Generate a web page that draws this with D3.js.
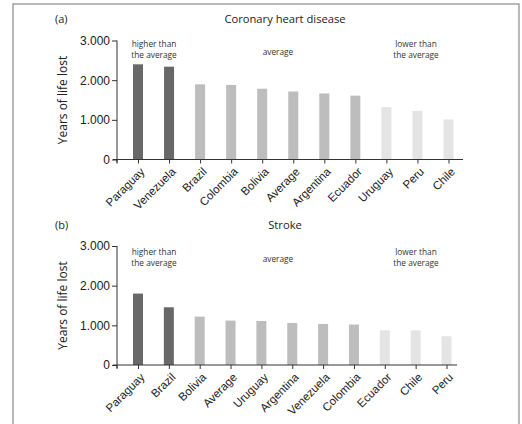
<!DOCTYPE html>
<html>
<head>
<meta charset="utf-8">
<script src="https://cdn.jsdelivr.net/npm/d3@7"></script>
<style>
  body { margin: 0; background: #fff; }
  svg { display: block; font-family: "Open Sans", sans-serif; }
</style>
</head>
<body>
<svg id="chart" width="522" height="424"></svg>
<script>
// data
const chdCountries = ["Paraguay", "Venezuela", "Brazil", "Colombia", "Bolivia", "Average", "Argentina", "Ecuador", "Uruguay", "Peru", "Chile"];
const chdValues    = [2400, 2340, 1895, 1880, 1785, 1715, 1665, 1610, 1320, 1225, 1010];
const chdGroups    = ["high", "high", "avg", "avg", "avg", "avg", "avg", "avg", "low", "low", "low"];

const strokeCountries = ["Paraguay", "Brazil", "Bolivia", "Average", "Uruguay", "Argentina", "Venezuela", "Colombia", "Ecuador", "Chile", "Peru"];
const strokeValues    = [1800, 1455, 1220, 1120, 1110, 1060, 1035, 1020, 875, 875, 725];
const strokeGroups    = ["high", "high", "avg", "avg", "avg", "avg", "avg", "avg", "low", "low", "low"];

const yTicks = [0, 1000, 2000, 3000];

const colors = {high: "#686868", avg: "#bdbdbd", low: "#e4e4e4"};
const fmt = d3.formatLocale({decimal: ",", thousands: ".", grouping: [3], currency: ["", ""]}).format(",");

const svg = d3.select("#chart");

// outer frame
svg.append("rect")
  .attr("x", 13).attr("y", 4)
  .attr("width", 506).attr("height", 440)
  .attr("fill", "none").attr("stroke", "#8a8a8a").attr("stroke-width", 1.2);

function drawPanel(opt) {
  const g = svg.append("g").attr("transform", `translate(0,${opt.top})`);

  const y = d3.scaleLinear().domain([0, 3000]).range([119, 0]);
  const x = d3.scalePoint().domain(opt.cats).range(opt.xRange);

  const plot = g.append("g").attr("transform", "translate(0,40.5)");

  // bars
  plot.selectAll(".bar")
    .data(opt.cats)
    .enter().append("rect")
      .attr("class", "bar")
      .attr("x", d => x(d) - 5)
      .attr("y", (d, i) => y(opt.vals[i]))
      .attr("width", 10)
      .attr("height", (d, i) => y(0) - y(opt.vals[i]))
      .attr("fill", (d, i) => colors[opt.groups[i]]);

  // y axis
  const ya = plot.append("g")
    .attr("transform", "translate(117,0)")
    .call(d3.axisLeft(y).tickValues(yTicks).tickFormat(fmt).tickSize(5).tickSizeOuter(0));
  ya.select(".domain").attr("d", `M0,0V${y(0) + 3}`);
  ya.selectAll("text").attr("font-size", 12).attr("fill", "#222").attr("x", -7);
  ya.selectAll("line, path").attr("stroke", "#333");

  // x axis
  const xa = plot.append("g")
    .attr("transform", `translate(0,${y(0)})`)
    .call(d3.axisBottom(x).tickSize(4).tickSizeOuter(0));
  xa.select(".domain").attr("d", `M113,0H${opt.xEnd}`);
  xa.selectAll("line, path").attr("stroke", "#333");
  xa.selectAll("text")
    .attr("font-size", 11.5)
    .attr("fill", "#222")
    .attr("y", 0).attr("dy", "0.35em")
    .attr("text-anchor", "end")
    .attr("transform", "translate(4,10) rotate(-45)");
  // small left tick
  xa.append("line").attr("x1", 117).attr("x2", 117).attr("y1", 0).attr("y2", 4).attr("stroke", "#333");

  // y title
  g.append("text")
    .attr("transform", `translate(67,${40.5 + 59.5}) rotate(-90)`)
    .attr("text-anchor", "middle")
    .attr("font-size", 12)
    .attr("fill", "#222")
    .text("Years of life lost");

  // panel label and title
  g.append("text").attr("x", 55).attr("y", 23).attr("font-size", 11).attr("fill", "#222").text(opt.label);
  g.append("text").attr("x", 285).attr("y", 23).attr("font-size", 11.2)
    .attr("text-anchor", "middle").attr("fill", "#222").text(opt.title);

  // group notes
  const notes = [
    {x: 154, y: 0, lines: ["higher than", "the average"]},
    {x: 278, y: opt.avgDy, lines: ["average"]},
    {x: 416, y: 0, lines: ["lower than", "the average"]}
  ];
  notes.forEach(n => {
    const t = g.append("text")
      .attr("text-anchor", "middle")
      .attr("font-size", 8.3)
      .attr("fill", "#333");
    n.lines.forEach((l, i) => {
      t.append("tspan").attr("x", n.x).attr("y", opt.noteY + n.y + i * 11).text(l);
    });
  });
}

drawPanel({top: 0, cats: chdCountries, vals: chdValues, groups: chdGroups,
  xRange: [138, 448.5], xEnd: 463, label: "(a)", title: "Coronary heart disease", noteY: 47, avgDy: 8});
drawPanel({top: 205.5, cats: strokeCountries, vals: strokeValues, groups: strokeGroups,
  xRange: [138, 446.5], xEnd: 457, label: "(b)", title: "Stroke", noteY: 49, avgDy: 7});
</script>
</body>
</html>
